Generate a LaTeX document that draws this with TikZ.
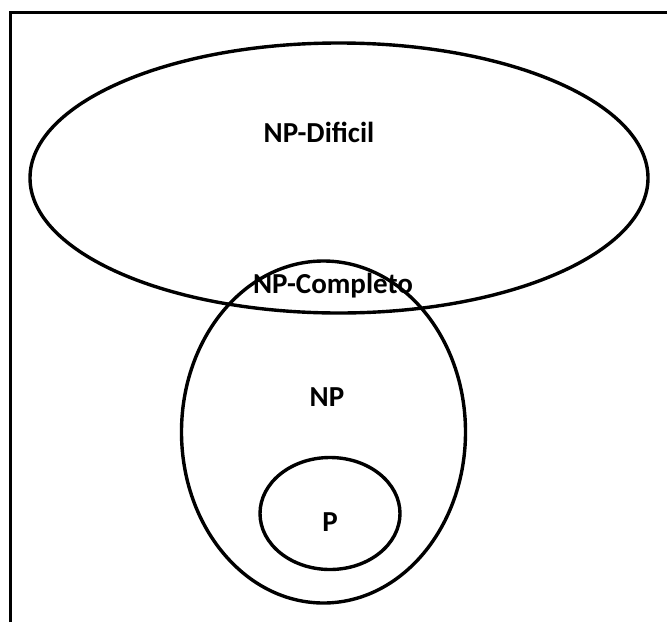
\documentclass[tikz,border=0pt]{standalone}
\usepackage{fontspec}
\setmainfont{Carlito}
\begin{document}
\begin{tikzpicture}[x=1pt,y=-1pt,
  set/.style={draw=black,line width=3.4pt},
  lbl/.style={font=\fontsize{29}{32}\selectfont\bfseries,text=black}]
\useasboundingbox (0,0) rectangle (667,622);
\fill[white] (0,0) rectangle (667,622);
\coordinate (bl) at (10,622);
\coordinate (tl) at (10,12.5);
\coordinate (tr) at (667,12.5);
\draw[line width=3pt] (bl) -- (tl) -- (tr);
\draw[set] (339,178) ellipse [x radius=309,y radius=135];
\draw[set] (323.5,432) ellipse [x radius=142,y radius=171];
\draw[set] (330,513.5) ellipse [x radius=70,y radius=56];
\node[lbl] (nph) at (319,132) {NP-Dificil};
\node[lbl] (npc) at (333,286) {NP-Completo};
\node[lbl] (np) at (327,397) {NP};
\node[lbl] (p) at (330,522) {P};
\end{tikzpicture}
\end{document}
